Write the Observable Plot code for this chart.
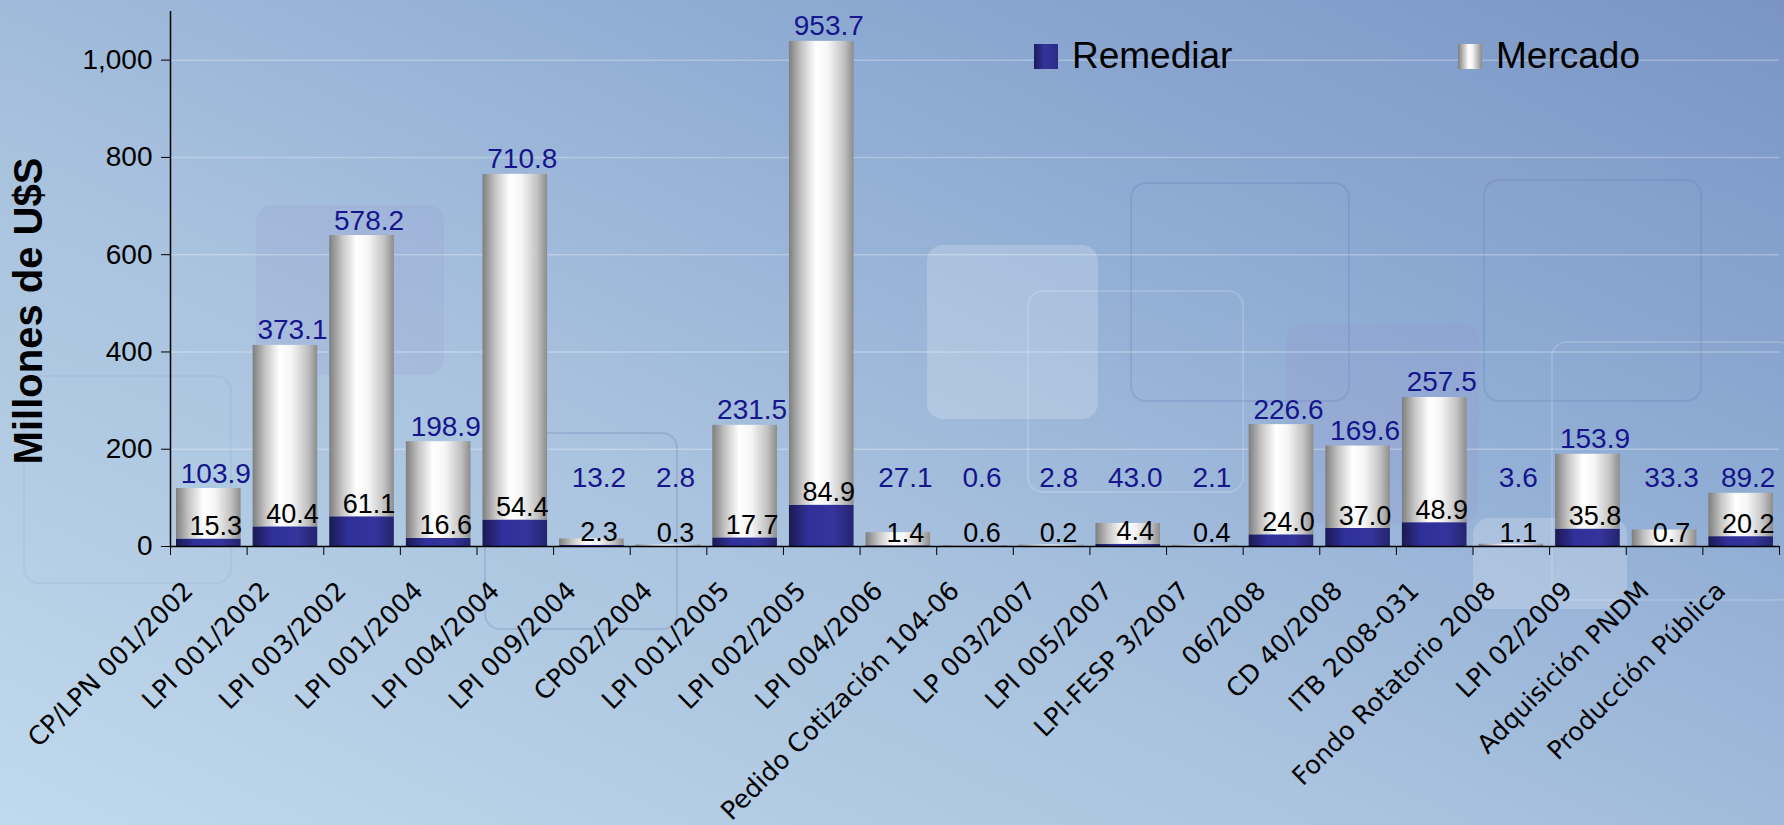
<!DOCTYPE html>
<html>
<head>
<meta charset="utf-8">
<script src="https://cdn.jsdelivr.net/npm/d3@7"></script>
<script src="https://cdn.jsdelivr.net/npm/@observablehq/plot@0.6"></script>
<style>
  html, body { margin: 0; padding: 0; }
  body { width: 1784px; height: 825px; overflow: hidden;
    background: linear-gradient(to top right, #c0d9ec 0%, #a9c2de 40%, #8eabd3 70%, #7a95c4 100%); }
  #wrap { position: relative; width: 1784px; height: 825px; }
  .deco { position: absolute; border-radius: 16px; }
  #chart { position: absolute; left: 0; top: 0; width: 1784px; height: 825px; }
  #chart svg { display: block; width: 1784px !important; height: 825px !important; max-width: none !important; }
  .legend { position: absolute; top: 35px; font-family: "Liberation Sans", Arial, sans-serif; font-size: 37px; color: #000; display: flex; align-items: center; }
  .legend .sw { width: 24px; height: 25px; margin-right: 14px; }
</style>
</head>
<body>
<div id="wrap">
  <div class="deco" style="left:256px;top:205px;width:188px;height:170px;background:rgba(150,140,205,0.14)"></div>
  <div class="deco" style="left:23px;top:375px;width:205px;height:205px;border:2px solid rgba(120,130,185,0.1)"></div>
  <div class="deco" style="left:484px;top:432px;width:190px;height:194px;border:2px solid rgba(90,100,160,0.2)"></div>
  <div class="deco" style="left:927px;top:245px;width:171px;height:174px;background:rgba(255,255,255,0.2)"></div>
  <div class="deco" style="left:1027px;top:290px;width:213px;height:199px;border:2px solid rgba(255,255,255,0.16)"></div>
  <div class="deco" style="left:1130px;top:182px;width:216px;height:216px;border:2px solid rgba(90,100,170,0.18)"></div>
  <div class="deco" style="left:1286px;top:324px;width:193px;height:199px;background:rgba(150,140,205,0.16)"></div>
  <div class="deco" style="left:1483px;top:179px;width:215px;height:219px;border:2px solid rgba(90,100,170,0.16)"></div>
  <div class="deco" style="left:1551px;top:341px;width:240px;height:256px;border:2px solid rgba(255,255,255,0.15)"></div>
  <div class="deco" style="left:1473px;top:518px;width:154px;height:91px;background:rgba(255,255,255,0.2)"></div>
  <div id="chart"></div>
  <div class="legend" style="left:1034px"><div class="sw" style="background:linear-gradient(to right,#1c1c5c,#34349c 45%,#2c2c86)"></div>Remediar</div>
  <div class="legend" style="left:1458px"><div class="sw" style="background:linear-gradient(to right,#7c7c7c,#ffffff 45%,#f4f4f4 60%,#8a8a8a)"></div>Mercado</div>
</div>
<script>
const categories = ["CP/LPN 001/2002","LPI 001/2002","LPI 003/2002","LPI 001/2004","LPI 004/2004","LPI 009/2004","CP002/2004","LPI 001/2005","LPI 002/2005","LPI 004/2006","Pedido Cotización 104-06","LP 003/2007","LPI 005/2007","LPI-FESP 3/2007","06/2008","CD 40/2008","ITB 2008-031","Fondo Rotatorio 2008","LPI 02/2009","Adquisición PNDM","Producción Pública"];
const remediar = [15.3,40.4,61.1,16.6,54.4,2.3,0.3,17.7,84.9,1.4,0.6,0.2,4.4,0.4,24.0,37.0,48.9,1.1,35.8,0.7,20.2];
const mercado = [103.9,373.1,578.2,198.9,710.8,13.2,2.8,231.5,953.7,27.1,0.6,2.8,43.0,2.1,226.6,169.6,257.5,3.6,153.9,33.3,89.2];
const yTicks = [0,200,400,600,800,1000];
const yTitle = "Millones de U$S";

const rows = categories.map((c, i) => ({cat: c, r: remediar[i], m: mercado[i]}));

const W = 1784, H = 825, mL = 170, mR = 5, mT = 11, mB = 279;
const bw = (W - mL - mR) / categories.length;
const font = "'Liberation Sans', Arial, sans-serif";

const svg = Plot.plot({
  width: W, height: H,
  marginLeft: mL, marginRight: mR, marginTop: mT, marginBottom: mB,
  style: {fontFamily: font, fontSize: "27px", color: "#000", background: "transparent", overflow: "visible", maxWidth: "none"},
  x: {type: "band", domain: categories, padding: 0, round: false, label: null},
  y: {domain: [0, 1100], label: null},
  marks: [
    Plot.gridY({ticks: yTicks.slice(1), stroke: "#ffffff", strokeOpacity: 0.28, strokeWidth: 1.5}),
    Plot.barY(rows, {x: "cat", y1: 0, y2: "r", fill: "url(#gradR)", insetLeft: 6, insetRight: 6}),
    Plot.barY(rows, {x: "cat", y1: "r", y2: d => d.r + d.m, fill: "url(#gradM)", insetLeft: 6, insetRight: 6}),
    Plot.ruleY([0], {stroke: "#000", strokeWidth: 1.5}),
    Plot.ruleX([categories[0]], {x: d => d, dx: -bw / 2, y1: 0, y2: 1100, stroke: "#000", strokeWidth: 1.5}),
    Plot.axisY({ticks: yTicks, tickFormat: d3.format(","), tickSize: 9, tickPadding: 9, fontSize: 28, label: null}),
    Plot.axisX({ticks: categories, tickSize: 9, tickFormat: () => "", dx: -bw / 2, label: null}),
    Plot.axisX({ticks: [categories[categories.length - 1]], tickSize: 9, tickFormat: () => "", dx: bw / 2, label: null}),
    Plot.axisX({ticks: categories, tickSize: 0, tickPadding: 40, tickRotate: -45, dx: -20, fontSize: 25.5, fontFamily: "'DejaVu Sans', Verdana, sans-serif", label: null}),
    Plot.text(rows, {x: "cat", y: d => Math.max(d.r + d.m, 110), text: d => d.m.toFixed(1), lineAnchor: "bottom", dy: -6, dx: 7, fill: "#15158c", fontSize: 28}),
    Plot.text(rows, {x: "cat", y: "r", text: d => d.r.toFixed(1), lineAnchor: "bottom", dy: -4, dx: 7, fill: "#000", fontSize: 27}),
    Plot.text([yTitle], {text: d => d, frameAnchor: "left", textAnchor: "middle", dx: -141, dy: 32, rotate: -90, fontSize: 40, fontWeight: "bold", fill: "#000"})
  ]
});

svg.insertAdjacentHTML("afterbegin", `<defs>
  <linearGradient id="gradM" x1="0" x2="1" y1="0" y2="0">
    <stop offset="0" stop-color="#7e7e7e"/>
    <stop offset="0.2" stop-color="#c6c6c6"/>
    <stop offset="0.42" stop-color="#ffffff"/>
    <stop offset="0.6" stop-color="#f6f6f6"/>
    <stop offset="0.85" stop-color="#c2c2c2"/>
    <stop offset="1" stop-color="#8c8c8c"/>
  </linearGradient>
  <linearGradient id="gradR" x1="0" x2="1" y1="0" y2="0">
    <stop offset="0" stop-color="#1a1a52"/>
    <stop offset="0.3" stop-color="#30309a"/>
    <stop offset="0.7" stop-color="#34349c"/>
    <stop offset="1" stop-color="#24246e"/>
  </linearGradient>
</defs>`);

document.getElementById("chart").appendChild(svg);
</script>
</body>
</html>
